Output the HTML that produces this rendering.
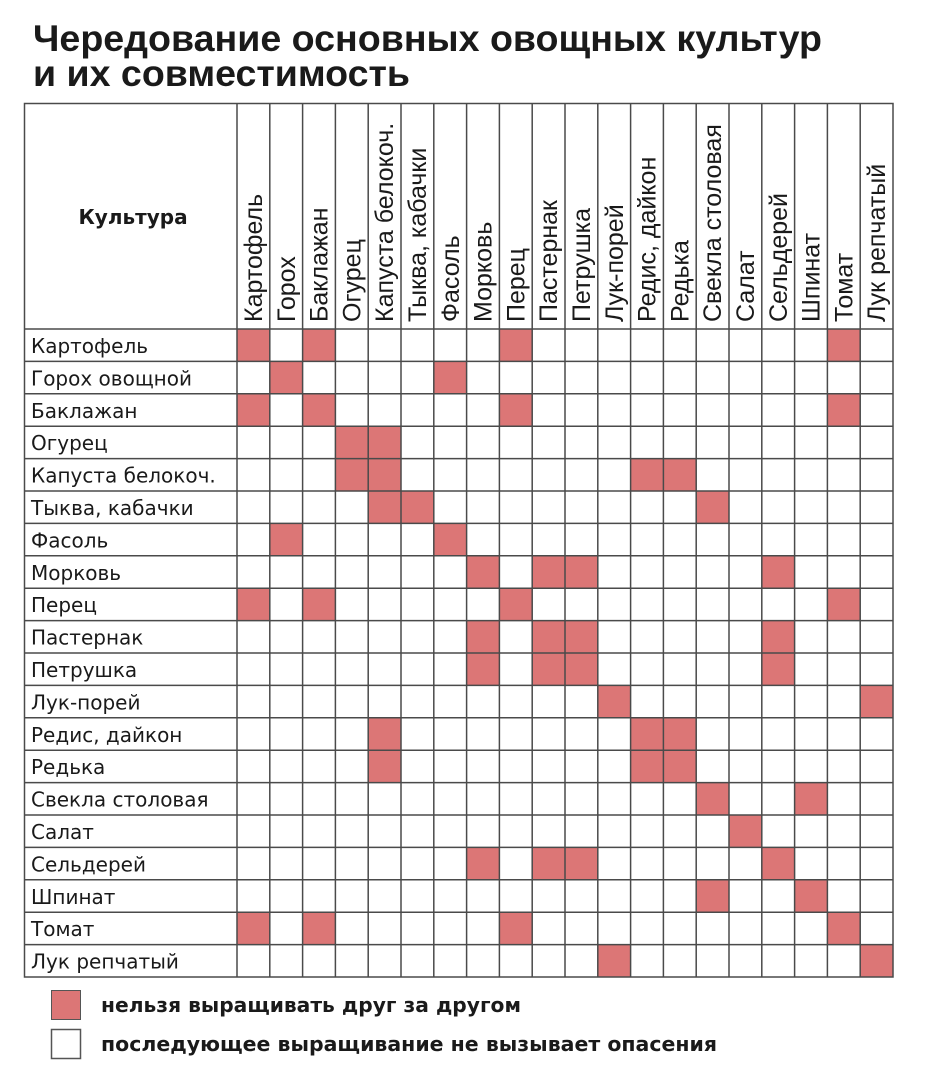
<!DOCTYPE html>
<html><head><meta charset="utf-8"><style>
html,body{margin:0;padding:0;background:#fff;width:937px;height:1080px;overflow:hidden}
svg{display:block}
text{font-family:"Liberation Sans","DejaVu Sans",sans-serif;fill:#1a1a1a}
.t{font-weight:bold;font-size:37px}
.r{font-size:20px;font-family:"DejaVu Sans","Liberation Sans",sans-serif}
.c{font-size:25px;font-family:"Liberation Sans","DejaVu Sans",sans-serif}
.l{font-size:20px;font-weight:bold;font-family:"DejaVu Sans","Liberation Sans",sans-serif}
</style></head><body>
<svg width="937" height="1080" viewBox="0 0 937 1080">
<text class="t" x="33" y="51" textLength="789" lengthAdjust="spacingAndGlyphs">Чередование основных овощных культур</text>
<text class="t" x="33" y="86" textLength="377" lengthAdjust="spacingAndGlyphs">и их совместимость</text>
<g transform="translate(237,329)" fill="#dc7676">
<rect x="0" y="0" width="32.8" height="32.4"/><rect x="65.6" y="0" width="32.8" height="32.4"/><rect x="262.4" y="0" width="32.8" height="32.4"/><rect x="590.4" y="0" width="32.8" height="32.4"/>
<rect x="32.8" y="32.4" width="32.8" height="32.4"/><rect x="196.8" y="32.4" width="32.8" height="32.4"/>
<rect x="0" y="64.8" width="32.8" height="32.4"/><rect x="65.6" y="64.8" width="32.8" height="32.4"/><rect x="262.4" y="64.8" width="32.8" height="32.4"/><rect x="590.4" y="64.8" width="32.8" height="32.4"/>
<rect x="98.4" y="97.2" width="65.6" height="64.8"/>
<rect x="393.6" y="129.6" width="65.6" height="32.4"/>
<rect x="131.2" y="162" width="65.6" height="32.4"/><rect x="459.2" y="162" width="32.8" height="32.4"/>
<rect x="32.8" y="194.4" width="32.8" height="32.4"/><rect x="196.8" y="194.4" width="32.8" height="32.4"/>
<rect x="229.6" y="226.8" width="32.8" height="32.4"/><rect x="295.2" y="226.8" width="65.6" height="32.4"/><rect x="524.8" y="226.8" width="32.8" height="32.4"/>
<rect x="0" y="259.2" width="32.8" height="32.4"/><rect x="65.6" y="259.2" width="32.8" height="32.4"/><rect x="262.4" y="259.2" width="32.8" height="32.4"/><rect x="590.4" y="259.2" width="32.8" height="32.4"/>
<rect x="229.6" y="291.6" width="32.8" height="64.8"/><rect x="295.2" y="291.6" width="65.6" height="64.8"/><rect x="524.8" y="291.6" width="32.8" height="64.8"/>
<rect x="360.8" y="356.4" width="32.8" height="32.4"/><rect x="623.2" y="356.4" width="32.8" height="32.4"/>
<rect x="131.2" y="388.8" width="32.8" height="64.8"/><rect x="393.6" y="388.8" width="65.6" height="64.8"/>
<rect x="459.2" y="453.6" width="32.8" height="32.4"/><rect x="557.6" y="453.6" width="32.8" height="32.4"/>
<rect x="492" y="486" width="32.8" height="32.4"/>
<rect x="229.6" y="518.4" width="32.8" height="32.4"/><rect x="295.2" y="518.4" width="65.6" height="32.4"/><rect x="524.8" y="518.4" width="32.8" height="32.4"/>
<rect x="459.2" y="550.8" width="32.8" height="32.4"/><rect x="557.6" y="550.8" width="32.8" height="32.4"/>
<rect x="0" y="583.2" width="32.8" height="32.4"/><rect x="65.6" y="583.2" width="32.8" height="32.4"/><rect x="262.4" y="583.2" width="32.8" height="32.4"/><rect x="590.4" y="583.2" width="32.8" height="32.4"/>
<rect x="360.8" y="615.6" width="32.8" height="32.4"/><rect x="623.2" y="615.6" width="32.8" height="32.4"/>
</g>
<g stroke="#4a4a4a" stroke-width="1.5" fill="none">
<rect x="24.5" y="103.5" width="868.5" height="873.5"/>
<path d="M237 103V977M269.8 103V977M302.6 103V977M335.4 103V977M368.2 103V977M401 103V977M433.8 103V977M466.6 103V977M499.4 103V977M532.2 103V977M565 103V977M597.8 103V977M630.6 103V977M663.4 103V977M696.2 103V977M729 103V977M761.8 103V977M794.6 103V977M827.4 103V977M860.2 103V977"/>
<path d="M24 329H893M24 361.4H893M24 393.8H893M24 426.2H893M24 458.6H893M24 491H893M24 523.4H893M24 555.8H893M24 588.2H893M24 620.6H893M24 653H893M24 685.4H893M24 717.8H893M24 750.2H893M24 782.6H893M24 815H893M24 847.4H893M24 879.8H893M24 912.2H893M24 944.6H893"/>
</g>
<text class="l" x="133" y="224" text-anchor="middle">Культура</text>
<text class="r" x="31" y="353">Картофель</text>
<text class="r" x="31" y="385.4">Горох овощной</text>
<text class="r" x="31" y="417.8">Баклажан</text>
<text class="r" x="31" y="450.2">Огурец</text>
<text class="r" x="31" y="482.6">Капуста белокоч.</text>
<text class="r" x="31" y="515">Тыква, кабачки</text>
<text class="r" x="31" y="547.4">Фасоль</text>
<text class="r" x="31" y="579.8">Морковь</text>
<text class="r" x="31" y="612.2">Перец</text>
<text class="r" x="31" y="644.6">Пастернак</text>
<text class="r" x="31" y="677">Петрушка</text>
<text class="r" x="31" y="709.4">Лук-порей</text>
<text class="r" x="31" y="741.8">Редис, дайкон</text>
<text class="r" x="31" y="774.2">Редька</text>
<text class="r" x="31" y="806.6">Свекла столовая</text>
<text class="r" x="31" y="839">Салат</text>
<text class="r" x="31" y="871.4">Сельдерей</text>
<text class="r" x="31" y="903.8">Шпинат</text>
<text class="r" x="31" y="936.2">Томат</text>
<text class="r" x="31" y="968.6">Лук репчатый</text>
<text class="c" transform="translate(262,322) rotate(-90)">Картофель</text>
<text class="c" transform="translate(294.8,322) rotate(-90)">Горох</text>
<text class="c" transform="translate(327.6,322) rotate(-90)">Баклажан</text>
<text class="c" transform="translate(360.4,322) rotate(-90)">Огурец</text>
<text class="c" transform="translate(393.2,322) rotate(-90)">Капуста белокоч.</text>
<text class="c" transform="translate(426,322) rotate(-90)">Тыква, кабачки</text>
<text class="c" transform="translate(458.8,322) rotate(-90)">Фасоль</text>
<text class="c" transform="translate(491.6,322) rotate(-90)">Морковь</text>
<text class="c" transform="translate(524.4,322) rotate(-90)">Перец</text>
<text class="c" transform="translate(557.2,322) rotate(-90)">Пастернак</text>
<text class="c" transform="translate(590,322) rotate(-90)">Петрушка</text>
<text class="c" transform="translate(622.8,322) rotate(-90)">Лук-порей</text>
<text class="c" transform="translate(655.6,322) rotate(-90)">Редис, дайкон</text>
<text class="c" transform="translate(688.4,322) rotate(-90)">Редька</text>
<text class="c" transform="translate(721.2,322) rotate(-90)">Свекла столовая</text>
<text class="c" transform="translate(754,322) rotate(-90)">Салат</text>
<text class="c" transform="translate(786.8,322) rotate(-90)">Сельдерей</text>
<text class="c" transform="translate(819.6,322) rotate(-90)">Шпинат</text>
<text class="c" transform="translate(852.4,322) rotate(-90)">Томат</text>
<text class="c" transform="translate(885.2,322) rotate(-90)">Лук репчатый</text>
<rect x="51.5" y="990.5" width="29" height="29" fill="#dc7676" stroke="#555" stroke-width="1"/>
<rect x="51.5" y="1029.5" width="29" height="29" fill="#fff" stroke="#555" stroke-width="1.5"/>
<text class="l" x="101" y="1012" textLength="420" lengthAdjust="spacingAndGlyphs">нельзя выращивать друг за другом</text>
<text class="l" x="101" y="1051" textLength="616" lengthAdjust="spacingAndGlyphs">последующее выращивание не вызывает опасения</text>
</svg>
</body></html>
